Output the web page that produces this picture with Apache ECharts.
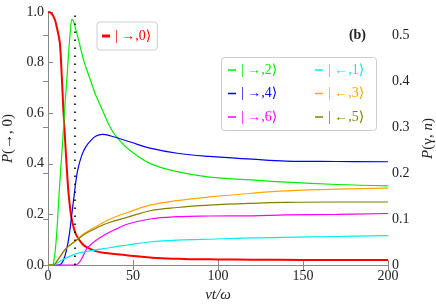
<!DOCTYPE html>
<html><head><meta charset="utf-8">
<script src="https://cdn.jsdelivr.net/npm/echarts@6/dist/echarts.min.js"></script>
<style>html,body{margin:0;padding:0;background:#fff}#c{width:436px;height:308px}</style>
</head><body><div id="c"></div>
<script>
// ---- data ----
const xTicks = [0, 50, 100, 150, 200];
const leftTicks = [0, 0.2, 0.4, 0.6, 0.8, 1.0];
const rightTicks = [0, 0.1, 0.2, 0.3, 0.4, 0.5];
const dottedX = 16;

const tRed = [0,2,4,5,6,7,8,9,10,11,12,13,13.5,15,16.5,20,22.4,28,34,46,64,80,100,120,150,200];
const pRed = [1,0.995,0.97,0.945,0.915,0.875,0.76,0.62,0.5,0.39,0.29,0.225,0.198,0.15,0.12,0.085,0.072,0.055,0.047,0.039,0.028,0.024,0.022,0.021,0.02,0.02];

const tGreen = [0,2.5,3.5,4.5,5.5,6.6,8,9,10,11.2,12.2,13.2,14.1,15,16.5,18.4,21,24.3,28,32,36.5,40,48,60,76,95,120,140,170,200];
const qGreen = [0,0,0.01,0.04,0.09,0.16,0.235,0.29,0.35,0.41,0.465,0.51,0.534,0.53,0.51,0.483,0.445,0.409,0.37,0.337,0.30,0.28,0.25,0.221,0.203,0.191,0.185,0.18,0.175,0.172];

const tBlue = [0,6.5,9,11,12.5,14,15,17.4,20,22.4,25,28,32,36.5,48,60,76,95,120,140,170,200];
const qBlue = [0,0,0.01,0.035,0.065,0.11,0.14,0.205,0.24,0.258,0.27,0.28,0.284,0.281,0.268,0.254,0.243,0.236,0.230,0.226,0.225,0.2245];

const tMag = [0,16,18,20,22.4,26,30,35,40,46,60,76,95,120,140,170,200];
const qMag = [0,0,0.004,0.015,0.033,0.047,0.058,0.069,0.078,0.088,0.1,0.105,0.1065,0.107,0.109,0.11,0.112];

const tCyan = [0,4,6,10,14,18,22.4,28,34,40,46,60,76,99,120,140,170,200];
const qCyan = [0,0,0.006,0.014,0.021,0.026,0.029,0.033,0.036,0.04,0.043,0.05,0.054,0.0565,0.059,0.060,0.062,0.064];

const tOrange = [0,3,6,10.6,16.5,22,30,36.5,46,60,76,95,120,140,170,200];
const qOrange = [0,0,0.012,0.035,0.054,0.07,0.087,0.1,0.113,0.13,0.14,0.148,0.156,0.161,0.165,0.167];

const tOlive = [0,3,6,10.6,16.5,22,30,36.5,46,60,76,95,120,140,170,200];
const qOlive = [0,0,0.013,0.036,0.053,0.068,0.083,0.093,0.103,0.118,0.125,0.13,0.134,0.136,0.137,0.137];

const names = {
  r0: '| →,0⟩', r2: '| →,2⟩', r4: '| →,4⟩', r6: '| →,6⟩',
  l1: '| ←,1⟩', l3: '| ←,3⟩', l5: '| ←,5⟩'
};
const colors = {
  r0: '#ff0000', r2: '#00ee00', r4: '#0000ff', r6: '#ff00ff',
  l1: '#00eeee', l3: '#ffa500', l5: '#808000'
};
// ---- end data ----

const zip = (a, b) => a.map((v, i) => [v, b[i]]);
const FF = '"Liberation Serif", "DejaVu Serif", serif';
const axisGray = '#888';

function line(key, t, v, yIdx, width) {
  return {
    name: names[key], type: 'line', yAxisIndex: yIdx, data: zip(t, v),
    showSymbol: false, smooth: 0.4,
    lineStyle: { color: colors[key], width: width }, itemStyle: { color: colors[key] },
    emphasis: { disabled: true }, animation: false
  };
}

const red = line('r0', tRed, pRed, 0, 2);
red.markLine = {
  silent: true, symbol: 'none', animation: false,
  label: { show: false },
  lineStyle: { color: '#000', type: [1.6, 6.4], width: 1.6 },
  data: [{ xAxis: dottedX }]
};

const legendText = (k) => ({ name: names[k], textStyle: { color: colors[k] } });

const option = {
  animation: false,
  grid: { left: 48, right: 48, top: 12, bottom: 43, outerBoundsMode: 'none', containLabel: false },
  xAxis: [
    {
      type: 'value', min: xTicks[0], max: xTicks[xTicks.length - 1], interval: 50, position: 'bottom',
      axisLine: { lineStyle: { color: axisGray, width: 1 } },
      axisTick: { inside: true, length: 5, lineStyle: { color: axisGray } },
      axisLabel: { color: '#222', fontFamily: FF, fontSize: 14, margin: 4 },
      splitLine: { show: false },
      name: 'vt/ω', nameLocation: 'middle', nameGap: 18,
      nameTextStyle: { fontFamily: FF, fontSize: 15, fontStyle: 'italic', color: '#222' }
    },
    {
      type: 'value', min: xTicks[0], max: xTicks[xTicks.length - 1], interval: 50, position: 'top',
      axisLine: { lineStyle: { color: axisGray, width: 1 } },
      axisTick: { inside: true, length: 5, lineStyle: { color: axisGray } },
      axisLabel: { show: false }, splitLine: { show: false }
    }
  ],
  yAxis: [
    {
      type: 'value', min: 0, max: 1, interval: 0.2, position: 'left',
      axisLine: { show: true, lineStyle: { color: axisGray, width: 1 } },
      axisTick: { show: true, inside: true, length: 5, lineStyle: { color: axisGray } },
      axisLabel: { color: '#222', fontFamily: FF, fontSize: 14, margin: 4, formatter: v => v.toFixed(1) },
      splitLine: { show: false },
      name: '{i|P}(→, 0)', nameLocation: 'middle', nameGap: 29, nameRotate: 90,
      nameTextStyle: { fontFamily: FF, fontSize: 15, color: '#222', rich: { i: { fontFamily: FF, fontSize: 15, fontStyle: 'italic', color: '#222' } } }
    },
    {
      type: 'value', min: 0, max: 0.55, position: 'right',
      axisLine: { show: true, lineStyle: { color: axisGray, width: 1 } },
      axisTick: { show: true, inside: true, length: 5, lineStyle: { color: axisGray }, customValues: rightTicks },
      axisLabel: { color: '#222', fontFamily: FF, fontSize: 14, margin: 4, customValues: rightTicks,
        formatter: v => (v === 0 ? '0' : v.toFixed(1)) },
      splitLine: { show: false },
      name: '{i|P}(γ, {i|n})', nameLocation: 'middle', nameGap: 22, nameRotate: 90,
      nameTextStyle: { fontFamily: FF, fontSize: 15, color: '#222', rich: { i: { fontFamily: FF, fontSize: 15, fontStyle: 'italic', color: '#222' } } }
    }
  ],
  legend: [
    {
      left: 97, top: 22, orient: 'vertical', selectedMode: false,
      data: [legendText('r0')],
      icon: 'rect', itemWidth: 8, itemHeight: 3,
      textStyle: { fontFamily: FF, fontSize: 14, lineHeight: 14 },
      backgroundColor: 'rgba(255,255,255,0.85)', borderColor: '#ccc', borderWidth: 1, borderRadius: 3,
      padding: [7, 6, 7, 5]
    },
    {
      left: 228, top: 63, orient: 'vertical', selectedMode: false, itemGap: 9.5,
      data: [legendText('r2'), legendText('r4'), legendText('r6')],
      icon: 'rect', itemWidth: 8, itemHeight: 1.5,
      textStyle: { fontFamily: FF, fontSize: 14, lineHeight: 14 }, padding: 0
    },
    {
      left: 315, top: 63, orient: 'vertical', selectedMode: false, itemGap: 9.5,
      data: [legendText('l1'), legendText('l3'), legendText('l5')],
      icon: 'rect', itemWidth: 8, itemHeight: 1.5,
      textStyle: { fontFamily: FF, fontSize: 14, lineHeight: 14 }, padding: 0
    }
  ],
  graphic: [
    { type: 'rect', left: 221, top: 57, z: 0, shape: { width: 155, height: 73, r: 3 },
      style: { fill: 'rgba(255,255,255,0.85)', stroke: '#ccc', lineWidth: 1 } },
    { type: 'text', right: 70, top: 28, z: 10,
      style: { text: '(b)', font: 'bold 14px "Liberation Serif", serif', fill: '#222' } }
  ],
  series: [
    red,
    line('r2', tGreen, qGreen, 1, 1.2),
    line('r4', tBlue, qBlue, 1, 1.2),
    line('r6', tMag, qMag, 1, 1.2),
    line('l1', tCyan, qCyan, 1, 1.2),
    line('l3', tOrange, qOrange, 1, 1.2),
    line('l5', tOlive, qOlive, 1, 1.2)
  ]
};

const chart = echarts.init(document.getElementById('c'), null, { renderer: 'canvas' });
chart.setOption(option);
</script>
</body></html>
